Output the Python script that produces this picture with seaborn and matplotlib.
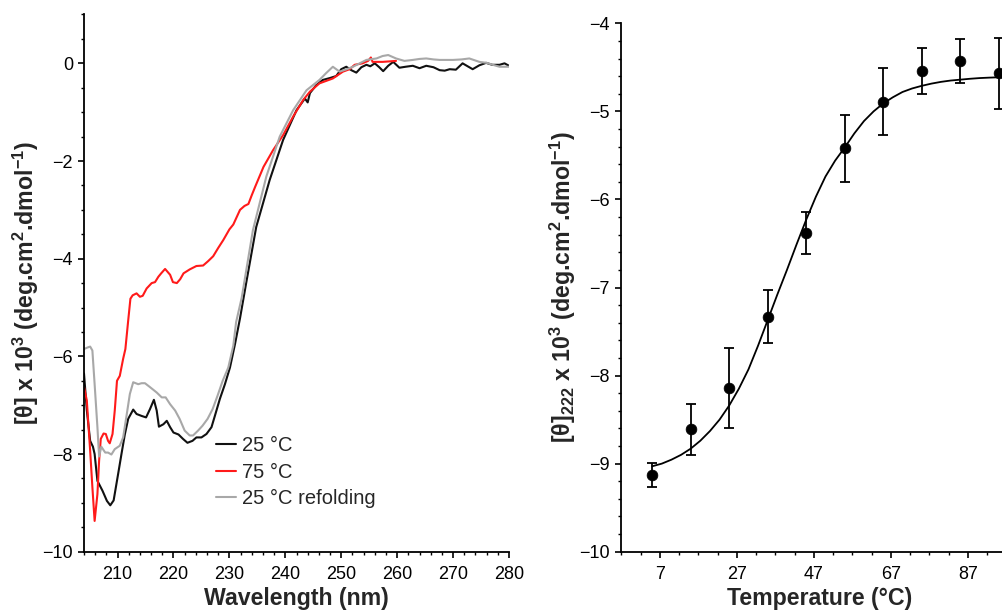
import numpy as np
import pandas as pd
import matplotlib
matplotlib.use("Agg")
import matplotlib.pyplot as plt
from matplotlib.ticker import MultipleLocator, FixedLocator
import seaborn as sns

# ---------------- data: CD spectra ----------------
wl_25 = [204.0, 204.5, 205.1, 205.6, 205.9, 206.4, 207.3, 208.1, 208.7, 209.3, 210.1, 210.7,
         211.3, 211.9, 212.8, 213.4, 214.3, 215.1, 215.8, 216.5, 217.0, 217.4, 218.2, 218.8,
         219.4, 220.0, 220.9, 221.7, 222.5, 223.4, 224.1, 225.0, 225.9, 226.8, 227.4, 228.3,
         229.2, 230.1, 231.0, 231.9, 233.0, 234.8, 237.2, 239.6, 242.0, 243.5, 244.0, 244.4,
         245.5, 246.7, 248.0, 249.1, 250.0, 250.9, 251.8, 252.7, 253.6, 254.5, 255.2, 256.0,
         256.8, 257.5, 258.4, 259.3, 260.4, 261.5, 262.8, 264.0, 265.2, 266.5, 267.6, 268.5,
         269.4, 270.5, 271.7, 272.6, 273.5, 274.7, 275.9, 277.0, 278.3, 279.2, 280.0]
cd_25 = [-6.35, -7.10, -7.73, -7.85, -8.00, -8.55, -8.75, -8.96, -9.05, -8.95, -8.41, -8.00,
         -7.60, -7.28, -7.09, -7.18, -7.22, -7.25, -7.08, -6.89, -7.11, -7.44, -7.39, -7.32,
         -7.45, -7.56, -7.60, -7.69, -7.77, -7.73, -7.66, -7.66, -7.59, -7.45, -7.22, -6.87,
         -6.57, -6.23, -5.75, -5.22, -4.50, -3.35, -2.39, -1.57, -0.96, -0.72, -0.80, -0.61,
         -0.45, -0.34, -0.30, -0.26, -0.12, -0.07, -0.14, -0.19, -0.08, -0.03, -0.06, 0.00,
         -0.08, -0.16, -0.05, 0.03, -0.09, -0.07, -0.05, -0.10, -0.05, -0.08, -0.14, -0.15,
         -0.12, -0.13, 0.00, -0.06, -0.12, -0.04, 0.01, -0.03, -0.03, 0.00, -0.05]

wl_75 = [204.0, 204.5, 205.1, 205.5, 205.9, 206.4, 206.7, 207.0, 207.5, 207.9, 208.3, 208.6,
         209.1, 209.5, 209.9, 210.4, 211.0, 211.4, 211.9, 212.3, 212.7, 213.4, 214.0, 214.5,
         215.2, 216.1, 216.7, 217.3, 217.8, 218.5, 219.4, 219.9, 220.6, 221.2, 221.8, 222.9,
         224.1, 225.3, 226.2, 227.1, 228.0, 228.9, 230.0, 230.7, 231.9, 232.7, 233.4, 234.0,
         234.6, 236.1, 237.8, 239.6, 241.4, 243.2, 244.4, 246.1, 247.3, 248.5, 250.3, 251.5,
         252.4, 253.8, 254.8, 255.3, 255.6, 257.4, 259.8]
cd_75 = [-6.63, -6.90, -7.93, -8.68, -9.37, -8.82, -8.14, -7.69, -7.58, -7.59, -7.73, -7.78,
         -7.59, -7.11, -6.50, -6.40, -6.05, -5.85, -5.27, -4.82, -4.75, -4.71, -4.78, -4.76,
         -4.61, -4.50, -4.48, -4.37, -4.30, -4.21, -4.33, -4.48, -4.50, -4.42, -4.30, -4.22,
         -4.15, -4.14, -4.05, -3.95, -3.78, -3.62, -3.40, -3.30, -3.00, -2.92, -2.88, -2.70,
         -2.53, -2.12, -1.78, -1.47, -1.09, -0.75, -0.58, -0.41, -0.36, -0.31, -0.17, -0.12,
         -0.03, 0.00, 0.05, 0.12, 0.03, 0.03, 0.05]

wl_ref = [204.0, 204.6, 205.1, 205.5, 205.9, 206.4, 206.7, 207.1, 207.5, 207.8, 208.3, 208.9,
          209.5, 210.4, 211.0, 211.6, 212.2, 212.8, 213.7, 214.3, 214.9, 215.8, 217.0, 217.9,
          218.6, 219.4, 220.3, 221.1, 222.0, 222.9, 223.5, 224.4, 225.2, 226.1, 227.0, 227.9,
          228.8, 229.8, 230.7, 231.2, 232.2, 234.2, 236.6, 239.0, 241.4, 243.8, 246.1, 247.3,
          248.5, 249.7, 251.0, 252.1, 253.3, 254.5, 256.3, 257.4, 258.4, 259.8, 261.3, 262.8,
          264.0, 265.2, 266.5, 267.6, 270.0, 271.5, 272.9, 274.7, 276.0, 277.1, 278.3, 280.0]
cd_ref = [-5.85, -5.82, -5.80, -5.88, -6.57, -7.45, -8.05, -7.85, -7.92, -7.97, -7.97, -8.01,
          -7.90, -7.83, -7.66, -7.22, -6.77, -6.53, -6.57, -6.55, -6.55, -6.63, -6.74, -6.84,
          -6.84, -6.98, -7.11, -7.28, -7.52, -7.62, -7.62, -7.52, -7.42, -7.28, -7.08, -6.80,
          -6.50, -6.23, -5.78, -5.30, -4.80, -3.42, -2.32, -1.50, -0.96, -0.55, -0.34, -0.20,
          -0.07, -0.17, -0.12, -0.07, 0.00, 0.07, 0.10, 0.15, 0.17, 0.10, 0.05, 0.07,
          0.09, 0.10, 0.08, 0.07, 0.07, 0.08, 0.10, 0.03, 0.01, -0.03, -0.07, -0.07]

series_labels = ["25 °C", "75 °C", "25 °C refolding"]
series_colors = ["#111111", "#ff1a1a", "#a8a8a8"]

# ---------------- data: thermal melt ----------------
temp = [5, 15, 25, 35, 45, 55, 65, 75, 85, 95]
theta222 = [-9.13, -8.61, -8.14, -7.33, -6.38, -5.42, -4.89, -4.54, -4.43, -4.57]
theta_err = [0.14, 0.29, 0.45, 0.30, 0.24, 0.38, 0.38, 0.26, 0.25, 0.40]

fit_temp = [5, 7.5, 10, 12.5, 15, 17.5, 20, 22.5, 25, 27.5, 30, 32.5, 35, 37.5, 40, 42.5,
            45, 47.5, 50, 52.5, 55, 57.5, 60, 62.5, 65, 67.5, 70, 72.5, 75, 77.5, 80, 82.5,
            85, 87.5, 90, 92.5, 95]
fit_theta = [-9.03, -9.00, -8.955, -8.90, -8.83, -8.74, -8.63, -8.50, -8.34, -8.15, -7.93,
             -7.66, -7.37, -7.08, -6.80, -6.51, -6.23, -5.97, -5.74, -5.56, -5.41, -5.25,
             -5.11, -5.00, -4.91, -4.84, -4.78, -4.74, -4.71, -4.685, -4.665, -4.65, -4.64,
             -4.63, -4.622, -4.617, -4.613]

# ---------------- style ----------------
sns.set_style("ticks")
plt.rcParams["font.family"] = ["Liberation Sans", "DejaVu Sans"]
plt.rcParams["mathtext.fontset"] = "custom"
plt.rcParams["mathtext.rm"] = "Liberation Sans"
plt.rcParams["mathtext.bf"] = "Liberation Sans:bold"
plt.rcParams["mathtext.it"] = "Liberation Sans:italic"
plt.rcParams["axes.linewidth"] = 1.3
plt.rcParams["axes.edgecolor"] = "black"

W, H = 1003, 612
fig = plt.figure(figsize=(W / 100, H / 100), dpi=100)

def px_axes(x0, x1, ytop, ybot):
    return fig.add_axes([x0 / W, (H - ybot) / H, (x1 - x0) / W, (ybot - ytop) / H])

ax1 = px_axes(84, 509, 14.5, 551.7)
ax2 = px_axes(621, 1018, 23.3, 551.7)

LABEL_FS = 16.7

# ---- left panel ----
for wl, cd, lab, col in zip([wl_25, wl_75, wl_ref], [cd_25, cd_75, cd_ref],
                            series_labels, series_colors):
    df = pd.DataFrame({"wl": wl, "cd": cd})
    sns.lineplot(data=df, x="wl", y="cd", ax=ax1, color=col, lw=1.5, label=lab,
                 sort=False, estimator=None)

ax1.set_xlim(204, 280)
ax1.set_ylim(-10, 1)
ax1.xaxis.set_major_locator(FixedLocator(np.arange(210, 281, 10)))
ax1.xaxis.set_minor_locator(MultipleLocator(2))
ax1.yaxis.set_major_locator(FixedLocator(np.arange(-10, 1, 2)))
ax1.yaxis.set_minor_locator(MultipleLocator(0.5))
ax1.set_xlabel("Wavelength (nm)", fontsize=LABEL_FS, fontweight="bold", labelpad=3)
ax1.set_ylabel(r"[θ] x 10$\mathbf{^3}$ (deg.cm$\mathbf{^2}$.dmol$\mathbf{^{-1}}$)",
               fontsize=LABEL_FS, fontweight="bold", labelpad=1)
leg = ax1.legend(loc="upper left", bbox_to_anchor=((216 - 84) / 425, (551.7 - 436) / 537.2),
                 frameon=False, fontsize=14.5, handlelength=1.0, handletextpad=0.3,
                 borderpad=0, borderaxespad=0, labelspacing=0.38)
for h in leg.get_lines():
    h.set_linewidth(1.5)

# ---- right panel ----
ax2.errorbar(temp, theta222, yerr=theta_err, fmt="none", ecolor="black", elinewidth=1.3,
             capsize=3.5, capthick=1.3, zorder=2)
fit_df = pd.DataFrame({"T": fit_temp, "theta": fit_theta})
sns.lineplot(data=fit_df, x="T", y="theta", ax=ax2, color="black", lw=1.3, sort=False,
             estimator=None, zorder=3)
pts_df = pd.DataFrame({"T": temp, "theta": theta222})
sns.scatterplot(data=pts_df, x="T", y="theta", ax=ax2, color="black", s=60,
                edgecolor="black", linewidth=0.5, zorder=4)

ax2.set_xlim(-3.1, 100)
ax2.set_ylim(-10, -4)
ax2.xaxis.set_major_locator(FixedLocator([7, 27, 47, 67, 87]))
ax2.xaxis.set_minor_locator(FixedLocator(np.arange(-3, 101, 5)))
ax2.yaxis.set_major_locator(MultipleLocator(1))
ax2.yaxis.set_minor_locator(MultipleLocator(0.2))
ax2.set_xlabel("Temperature (°C)", fontsize=LABEL_FS, fontweight="bold", labelpad=3)
ax2.set_ylabel(r"[θ]$\mathbf{_{222}}$ x 10$\mathbf{^3}$ (deg.cm$\mathbf{^2}$.dmol$\mathbf{^{-1}}$)",
               fontsize=LABEL_FS, fontweight="bold", labelpad=1)

for ax in (ax1, ax2):
    sns.despine(ax=ax)
    ax.tick_params(axis="both", which="major", direction="out", length=4, width=1.2,
                   labelsize=13, pad=4, color="black", labelcolor="black")
    ax.tick_params(axis="x", which="major", pad=6)
    ax.tick_params(axis="both", which="minor", direction="out", length=2, width=1.0,
                   color="black")
    ax.set_facecolor("white")

fig.savefig("out.png", dpi=100, facecolor="white")
